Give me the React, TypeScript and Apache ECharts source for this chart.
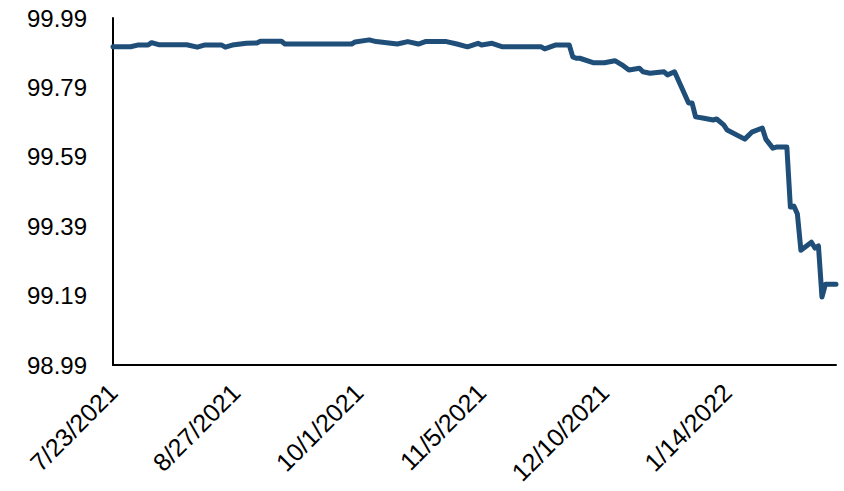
import React, { useEffect, useRef } from "react";
import * as echarts from "echarts";

// Daily price observations (turning points of the series)
const dates = [
  "2021-07-23", "2021-07-28", "2021-07-30", "2021-08-02", "2021-08-03", "2021-08-05",
  "2021-08-13", "2021-08-16", "2021-08-18", "2021-08-23", "2021-08-24", "2021-08-26",
  "2021-08-30", "2021-09-02", "2021-09-03", "2021-09-09", "2021-09-10", "2021-09-29",
  "2021-09-30", "2021-10-04", "2021-10-06", "2021-10-12", "2021-10-15", "2021-10-18",
  "2021-10-20", "2021-10-26", "2021-10-29", "2021-11-01", "2021-11-04", "2021-11-05",
  "2021-11-08", "2021-11-11", "2021-11-22", "2021-11-23", "2021-11-26", "2021-11-30",
  "2021-12-01", "2021-12-02", "2021-12-03", "2021-12-07", "2021-12-10", "2021-12-13",
  "2021-12-15", "2021-12-17", "2021-12-20", "2021-12-21", "2021-12-23", "2021-12-27",
  "2021-12-28", "2021-12-30", "2022-01-03", "2022-01-04", "2022-01-05", "2022-01-07",
  "2022-01-10", "2022-01-11", "2022-01-13", "2022-01-14", "2022-01-19", "2022-01-21",
  "2022-01-24", "2022-01-25", "2022-01-27", "2022-01-28", "2022-01-31", "2022-02-01",
  "2022-02-02", "2022-02-03", "2022-02-04", "2022-02-07", "2022-02-08", "2022-02-09",
  "2022-02-10", "2022-02-11", "2022-02-14",
];

const prices = [
  99.907, 99.907, 99.912, 99.912, 99.919, 99.913,
  99.913, 99.906, 99.912, 99.912, 99.906, 99.912,
  99.917, 99.918, 99.923, 99.923, 99.915, 99.915,
  99.921, 99.927, 99.922, 99.915, 99.922, 99.915,
  99.922, 99.922, 99.915, 99.907, 99.917, 99.912,
  99.917, 99.907, 99.907, 99.901, 99.912, 99.912,
  99.878, 99.874, 99.874, 99.861, 99.861, 99.867,
  99.855, 99.84, 99.845, 99.835, 99.831, 99.835,
  99.826, 99.835, 99.745, 99.745, 99.705, 99.702,
  99.696, 99.699, 99.682, 99.667, 99.641, 99.661,
  99.673, 99.641, 99.615, 99.618, 99.618, 99.445,
  99.448, 99.425, 99.321, 99.344, 99.327, 99.333,
  99.186, 99.223, 99.223,
];

const xTickDates = ["2021-07-23", "2021-08-27", "2021-10-01", "2021-11-05", "2021-12-10", "2022-01-14"];
const xEndDate = "2022-02-14";
const yTicks = [98.99, 99.19, 99.39, 99.59, 99.79, 99.99];

const DAY = 86400000;
const start = Date.parse(dates[0]);
const dayOffset = (d: string) => Math.round((Date.parse(d) - start) / DAY);
const fmtDate = (v: number) => {
  const d = new Date(start + v * DAY);
  return `${d.getUTCMonth() + 1}/${d.getUTCDate()}/${d.getUTCFullYear()}`;
};

const FONT = "'Liberation Sans', Arial, sans-serif";

export default function App() {
  const ref = useRef<HTMLDivElement>(null);

  useEffect(() => {
    document.body.style.margin = "0";
    if (!ref.current) return;
    const chart = echarts.init(ref.current, undefined, { renderer: "svg" });
    chart.setOption({
      animation: false,
      backgroundColor: "#ffffff",
      grid: { left: 113, right: 8, top: 18, bottom: 126, containLabel: false },
      xAxis: {
        type: "value",
        min: 0,
        max: dayOffset(xEndDate),
        splitLine: { show: false },
        axisTick: { show: false },
        axisLine: { show: true, onZero: false, lineStyle: { color: "#000", width: 2 } },
        axisLabel: {
          customValues: xTickDates.map(dayOffset),
          formatter: (v: number) => fmtDate(v),
          rotate: 45,
          margin: 23,
          fontSize: 25,
          fontFamily: FONT,
          color: "#000",
        },
      },
      yAxis: {
        type: "value",
        min: yTicks[0],
        max: yTicks[yTicks.length - 1],
        splitLine: { show: false },
        axisTick: { show: false },
        axisLine: { show: true, lineStyle: { color: "#000", width: 2 } },
        axisLabel: {
          customValues: yTicks,
          formatter: (v: number) => v.toFixed(2),
          margin: 26,
          fontSize: 24,
          fontFamily: FONT,
          color: "#000",
        },
      },
      series: [
        {
          type: "line",
          data: dates.map((d, i) => [dayOffset(d), prices[i]]),
          symbol: "none",
          clip: false,
          lineStyle: { color: "#1F4E79", width: 5, cap: "round", join: "round" },
        },
      ],
    });
    return () => chart.dispose();
  }, []);

  return <div ref={ref} style={{ width: 844, height: 491 }} />;
}
